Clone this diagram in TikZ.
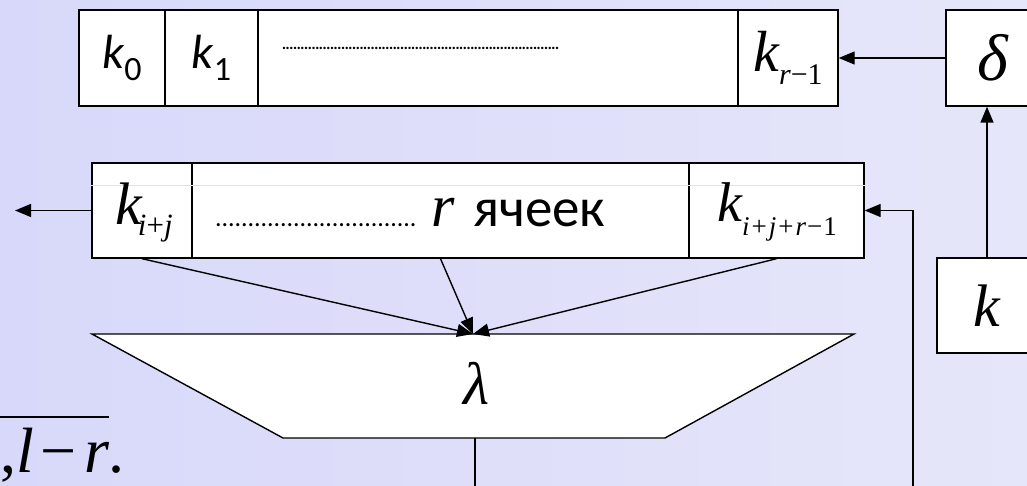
\documentclass[tikz,border=0pt]{standalone}
\usepackage{fontspec}
\setmainfont{Liberation Serif}
\newfontfamily\tnr{Liberation Serif}
\newfontfamily\calib{Carlito}
\usetikzlibrary{arrows.meta}
\newcommand\dotrow[2]{\hbox to #1{\leaders\hbox to #2{\hss.\hss}\hfill}}
\newcommand\fsz[1]{\fontsize{#1}{#1}\selectfont}
\definecolor{bgL}{RGB}{216,216,250}
\definecolor{bgR}{RGB}{230,230,250}
\definecolor{faint}{RGB}{222,222,248}
\begin{document}
\begin{tikzpicture}[x=1pt,y=-1pt,
  box/.style={draw,line width=1.4pt,fill=white,inner sep=0pt,minimum height=96pt},
  txt/.style={inner sep=0pt},
  conn/.style={line width=1.4pt},
  arr/.style={conn,-{Triangle[length=16pt,width=13pt]}}]
\shade[left color=bgL,right color=bgR] (0,0) rectangle (1027,486);
\useasboundingbox (0,0) rectangle (1027,486);
% top register
\node[box,minimum width=86pt] (k0) at (122,58) {\calib\fsz{48}\itshape k\upshape\raisebox{-12pt}{\fsz{34}0}};
\node[box,minimum width=93pt] (k1) at (211.5,58) {\calib\fsz{48}\itshape k\upshape\raisebox{-12pt}{\fsz{34}1}};
\node[box,minimum width=480pt] (mid1) at (498,58) {};
\node[txt,anchor=base west] (dots1) at (282,50) {\calib\fsz{20}\dotrow{278pt}{3.7pt}};
\node[box,minimum width=100pt] (kr) at (788,58) {\tnr\fsz{58}\itshape k\raisebox{-13pt}{\fsz{30}\itshape r\upshape−1}};
\node[box,minimum width=94pt] (delta) at (993,58) {\tnr\fsz{66}\itshape δ};
% second register (boxes)
\node[box,minimum width=100pt,minimum height=95pt] (ki) at (142,210.5) {};
\node[box,minimum width=497pt,minimum height=95pt] (mid2) at (440.5,210.5) {};
\node[box,minimum width=175pt,minimum height=95pt] (kir) at (776.5,210.5) {};
\draw[faint,line width=0.8pt] (ki.west |- 0,185) -- (kir.east |- 0,185);
% second register (texts)
\node[txt] (kit) at (144,212) {\tnr\fsz{60}\itshape k\kern-4pt\raisebox{-11pt}{\fsz{31}i\upshape+\itshape j}};
\node[txt] (kirt) at (777,212) {\tnr\fsz{56}\itshape k\raisebox{-14pt}{\fsz{27}i\kern2pt\upshape+\kern2pt\itshape j\kern2pt\upshape+\kern2pt\itshape r\upshape\kern1pt−\kern1pt1}};
\node[txt,anchor=base west] (rdots) at (215,226) {\calib\fsz{26}\dotrow{203pt}{6.5pt}};
\node[txt,anchor=base west] (rsym) at (431,226) {\tnr\fsz{60}\itshape r};
\node[txt,anchor=base west] (cells) at (473,226) {\calib\fsz{55}ячеек};
% k box
\node[box,minimum width=100pt,minimum height=95pt] (kbox) at (987,305.5) {\tnr\fsz{60}\itshape k};
% trapezoid
\coordinate (apex) at (473,334);
\coordinate (lamout) at (475,438);
\draw[line width=1.4pt,fill=white] (92,334) -- (854,334) -- (665,438) -- (283,438) -- cycle;
\node[txt] (lam) at (476,383) {\tnr\fsz{60}\itshape λ};
% formula
\node[txt,anchor=base west] (form) at (0,472) {\tnr\fsz{64}\vbox{\hrule height 1.8pt\kern10pt\hbox{,\itshape l\upshape\kern7pt−\kern7pt\itshape r}}.};
% connectors
\coordinate (leftout) at (15,210.5);
\coordinate (fb) at (913,495);
\coordinate (lamend) at (475,495);
\draw[arr] (delta.west) -- (kr.east);
\draw[arr] (kbox.north) -- (kbox.north |- delta.south);
\draw[arr] (ki.west) -- (leftout);
\draw[arr] (fb) |- (kir.east);
\draw[conn] (lamout) -- (lamend);
\draw[arr] (ki.south) -- (apex);
\draw[arr] (mid2.south) -- (apex);
\draw[arr] (kir.south) -- (apex);
\end{tikzpicture}
\end{document}
